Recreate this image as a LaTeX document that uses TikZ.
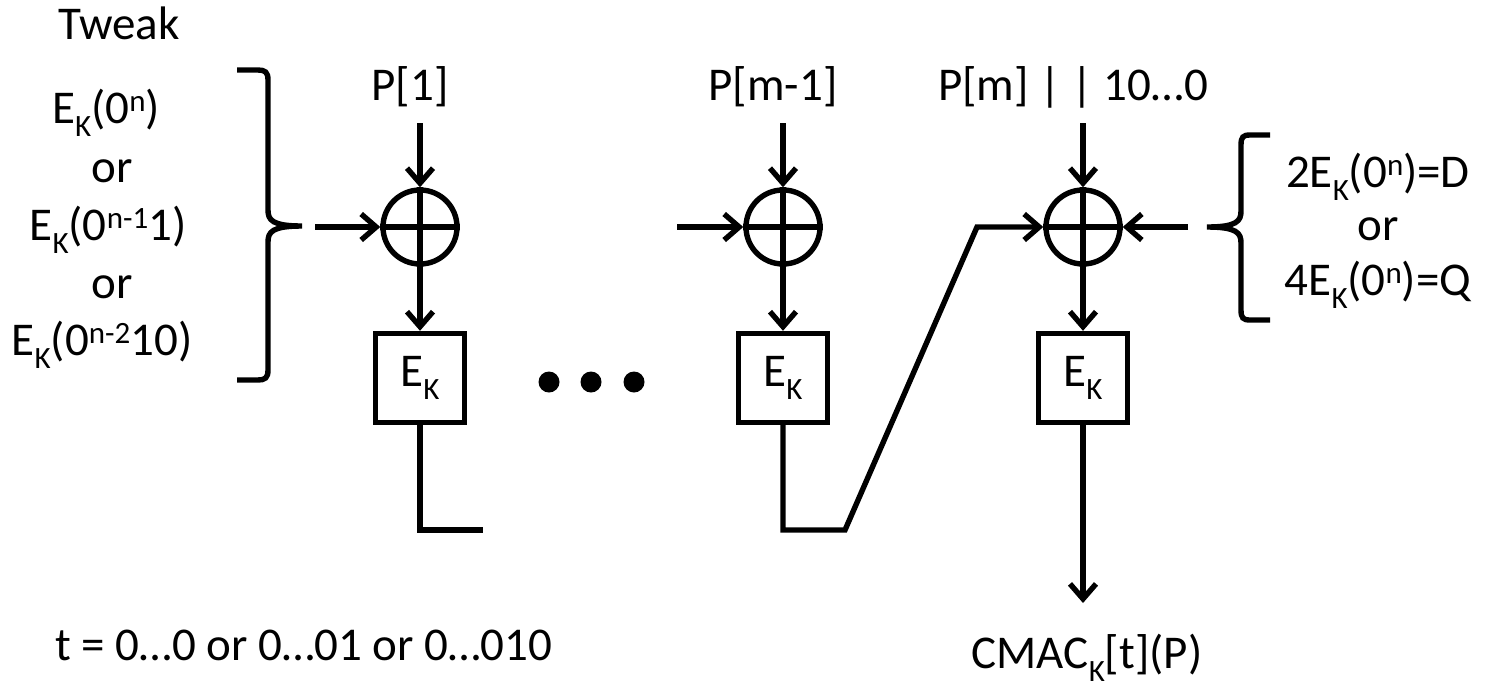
\documentclass[tikz,border=0pt]{standalone}
\usepackage{fontspec}
\setmainfont{Carlito}
\usetikzlibrary{arrows.meta}
\newcommand\mysub[1]{\raisebox{-13pt}{\fontsize{31}{32}\selectfont #1}}
\newcommand\mysup[1]{\raisebox{12pt}{\fontsize{31}{32}\selectfont #1}}
\begin{document}
\begin{tikzpicture}[x=1pt,y=-1pt,
  line width=5.4pt,
  every node/.style={font=\fontsize{47}{56}\selectfont, inner sep=0pt},
  txt/.style={anchor=base},
  xorn/.style={circle,draw,minimum size=74pt},
  boxn/.style={draw,minimum width=89pt,minimum height=89pt},
  arr/.style={-{Straight Barb[length=15pt,width=26pt]}},
  dotn/.style={circle,fill,minimum size=21pt}]
\useasboundingbox (0,0) rectangle (1490,686);

% left tweak text and brace
\node[txt] (tw) at (119,39) {Tweak};
\node[txt] (l1) at (106,123) {E\mysub{K}(0\mysup{n})};
\node[txt] (l2) at (112,182) {or};
\node[txt] (l3) at (108,240) {E\mysub{K}(0\mysup{n-1}1)};
\node[txt] (l4) at (112,298) {or};
\node[txt] (l5) at (102,355) {E\mysub{K}(0\mysup{n-2}10)};
\coordinate (lb) at (302,226);
\draw (237,70) -- (258,70) .. controls (265,70) and (268,72) .. (268,80)
  -- (268,210) .. controls (268,220) and (272,226) .. (lb)
  .. controls (272,226) and (268,232) .. (268,242)
  -- (268,370) .. controls (268,378) and (265,380) .. (258,380) -- (237,380);

% block 1
\node[xorn] (x1) at (420,227) {};
\draw (x1.north) -- (x1.south) (x1.west) -- (x1.east);
\node[boxn] (e1) at (420,378) {E\mysub{K}};
\node[txt] (p1) at (410,100) {P[1]};
\coordinate (p1in) at (420,123);
\coordinate (t1) at (315,227);
\coordinate (o1) at (483,530);
\draw[arr] (p1in) -- (x1.north);
\draw[arr] (t1) -- (x1.west);
\draw[arr] (x1.south) -- (e1.north);
\draw (e1.south) |- (o1);

% dots
\node[dotn] (d1) at (549,382) {};
\node[dotn] (d2) at (591,382) {};
\node[dotn] (d3) at (634,382) {};

% block 2
\node[xorn] (x2) at (783,227) {};
\draw (x2.north) -- (x2.south) (x2.west) -- (x2.east);
\node[boxn] (e2) at (783,378) {E\mysub{K}};
\node[txt] (p2) at (773,100) {P[m-1]};
\coordinate (p2in) at (783,123);
\coordinate (a2) at (677,227);
\draw[arr] (p2in) -- (x2.north);
\draw[arr] (a2) -- (x2.west);
\draw[arr] (x2.south) -- (e2.north);

% block 3
\node[xorn] (x3) at (1083,227) {};
\draw (x3.north) -- (x3.south) (x3.west) -- (x3.east);
\node[boxn] (e3) at (1083,378) {E\mysub{K}};
\node[txt] (p3) at (1073,100) {P[m] | | 10…0};
\coordinate (p3in) at (1083,123);
\draw[arr] (p3in) -- (x3.north);
\draw[arr] (x3.south) -- (e3.north);
\coordinate (c1) at (845,530);
\coordinate (c2) at (977,227);
\draw[arr] (e2.south) |- (c1) -- (c2) -- (x3.west);

% right key input and brace
\coordinate (r1) at (1188,227);
\draw[arr] (r1) -- (x3.east);
\coordinate (rb) at (1207,227);
\draw (1270,135) -- (1250,135) .. controls (1243,135) and (1241,137) .. (1241,145)
  -- (1241,211) .. controls (1241,221) and (1237,227) .. (rb)
  .. controls (1237,227) and (1241,233) .. (1241,243)
  -- (1241,310) .. controls (1241,318) and (1243,320) .. (1250,320) -- (1270,320);
\node[txt] (k1) at (1378,187) {2E\mysub{K}(0\mysup{n})=D};
\node[txt] (k2) at (1378,240) {or};
\node[txt] (k3) at (1378,295) {4E\mysub{K}(0\mysup{n})=Q};

% output
\coordinate (cm) at (1083,603);
\draw[arr] (e3.south) -- (cm);
\node[txt] (mac) at (1087,668) {CMAC\mysub{K}[t](P)};
\node[txt] (tt) at (304,660) {t = 0…0 or 0…01 or 0…010};
\end{tikzpicture}
\end{document}
